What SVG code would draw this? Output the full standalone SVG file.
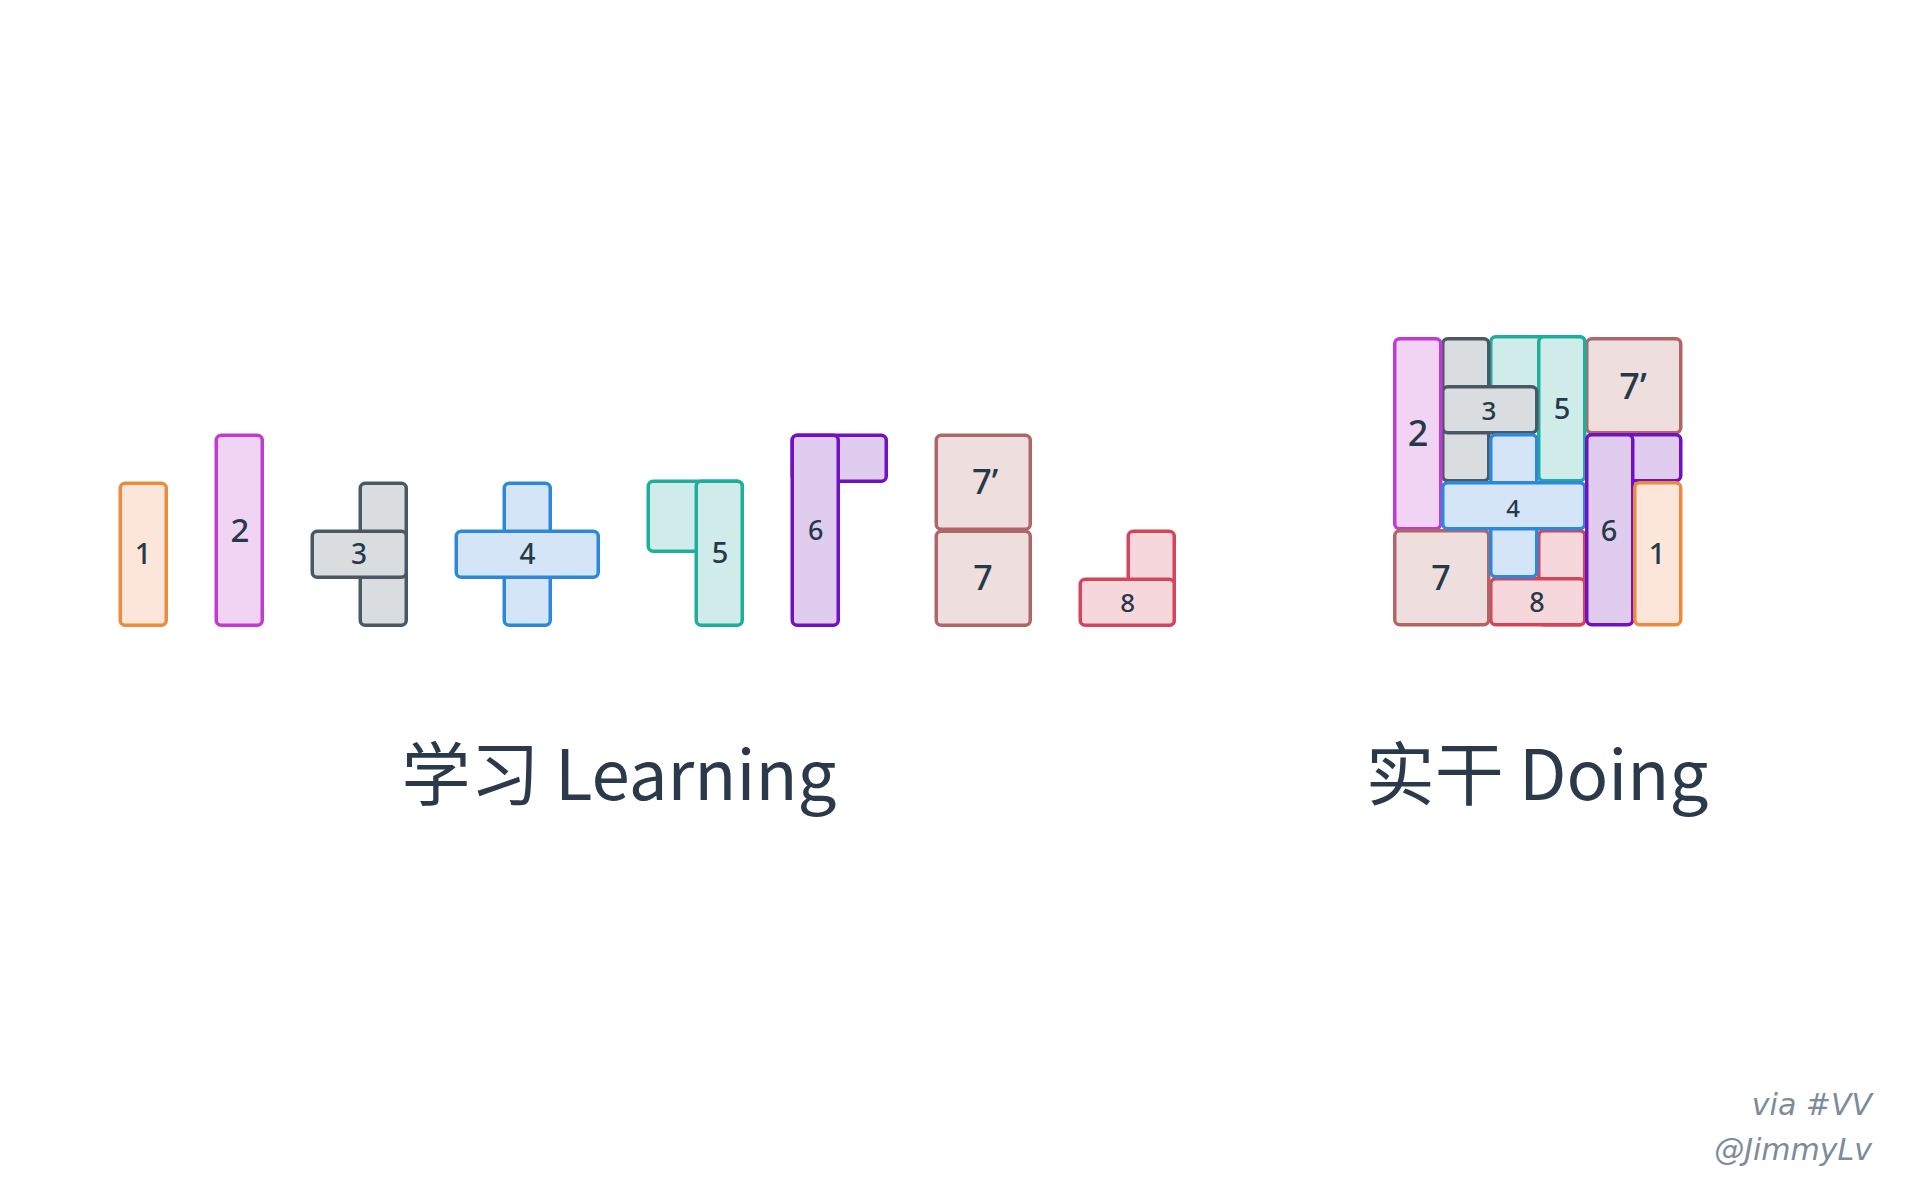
<svg xmlns="http://www.w3.org/2000/svg" width="1920" height="1200" viewBox="0 0 1920 1200">
<style>
rect{stroke-width:3.5;rx:5;ry:5}
.c1 rect{fill:#FBE6D9;stroke:#EC8B3E}
.c2 rect{fill:#F1D3F4;stroke:#C13AD3}
.c3 rect{fill:#D9DDE0;stroke:#4A5866}
.c4 rect{fill:#D3E5F6;stroke:#2E88DA}
.c5 rect{fill:#CFECEA;stroke:#1EAF9C}
.c6 rect{fill:#E0CCEF;stroke:#7211C3}
.c7 rect{fill:#EEDFDE;stroke:#AE6666}
.c8 rect{fill:#F6D8DC;stroke:#D4455C}
.lb{font-family:"Noto Sans","DejaVu Sans",sans-serif;font-weight:500;fill:#273848;text-anchor:middle}
.title{font-family:"Noto Sans CJK SC","Noto Sans",sans-serif;font-size:69px;fill:#2A3A4A;text-anchor:middle}
.wm{font-family:"DejaVu Sans","Noto Sans",sans-serif;font-style:italic;font-size:30px;fill:#7C8C9B;text-anchor:end}
</style>
<rect x="0" y="0" width="1920" height="1200" style="fill:#ffffff;stroke:none;rx:0;ry:0"/>

<g id="learning">
  <g id="L1" class="c1"><rect x="120.25" y="483.25" width="46" height="142"/><text class="lb" x="143" y="564" font-size="29">1</text></g>
  <g id="L2" class="c2"><rect x="216.25" y="435.25" width="46" height="190"/><text class="lb" x="240" y="541.5" font-size="33">2</text></g>
  <g id="L3" class="c3"><rect x="360.25" y="483.25" width="46" height="142"/><rect x="312.25" y="531.25" width="94" height="46"/><text class="lb" x="359" y="564" font-size="28">3</text></g>
  <g id="L4" class="c4"><rect x="504.25" y="483.25" width="46" height="142"/><rect x="456.25" y="531.25" width="142" height="46"/><text class="lb" x="527.5" y="563.5" font-size="28">4</text></g>
  <g id="L5" class="c5"><rect x="648.25" y="481.25" width="94" height="70"/><rect x="696.25" y="481.25" width="46" height="144"/><text class="lb" x="720" y="562.7" font-size="29">5</text></g>
  <g id="L6" class="c6"><rect x="792.25" y="435.25" width="94" height="46"/><rect x="792.25" y="435.25" width="46" height="190"/><text class="lb" x="815.7" y="539.5" font-size="27">6</text></g>
  <g id="L7p" class="c7"><rect x="936.25" y="435.25" width="94" height="94"/><text class="lb" x="985" y="494" font-size="34.5">7’</text></g>
  <g id="L7" class="c7"><rect x="936.25" y="531.25" width="94" height="94"/><text class="lb" x="983" y="590" font-size="34">7</text></g>
  <g id="L8" class="c8"><rect x="1128.25" y="531.25" width="46" height="94"/><rect x="1080.25" y="579.25" width="94" height="46"/><text class="lb" x="1127.7" y="611.7" font-size="26">8</text></g>
</g>

<g id="doing">
  <g id="D7p" class="c7"><rect x="1586.75" y="338.75" width="94" height="94"/><text class="lb" x="1633" y="399.3" font-size="36">7’</text></g>
  <g id="D5" class="c5"><rect x="1490.75" y="336.75" width="94" height="70"/><rect x="1538.75" y="336.75" width="46" height="144"/><text class="lb" x="1562" y="419" font-size="29">5</text></g>
  <g id="D3" class="c3"><rect x="1442.75" y="338.75" width="46" height="142"/><rect x="1442.75" y="386.75" width="94" height="46"/><text class="lb" x="1489" y="420" font-size="26">3</text></g>
  <g id="D2" class="c2"><rect x="1394.75" y="338.75" width="46" height="190"/><text class="lb" x="1418" y="446" font-size="36">2</text></g>
  <g id="D8" class="c8"><rect x="1538.75" y="530.75" width="46" height="94"/><rect x="1490.75" y="578.75" width="94" height="46"/><text class="lb" x="1537" y="612.3" font-size="27">8</text></g>
  <g id="D7" class="c7"><rect x="1394.75" y="530.75" width="94" height="94"/><text class="lb" x="1441" y="590" font-size="34">7</text></g>
  <g id="D4" class="c4"><rect x="1490.75" y="434.75" width="46" height="142"/><rect x="1442.75" y="482.75" width="142" height="46"/><text class="lb" x="1513" y="516.7" font-size="24">4</text></g>
  <g id="D6" class="c6"><rect x="1586.75" y="434.75" width="94" height="46"/><rect x="1586.75" y="434.75" width="46" height="190"/><text class="lb" x="1609" y="540.7" font-size="29">6</text></g>
  <g id="D1" class="c1"><rect x="1634.75" y="482.75" width="46" height="142"/><text class="lb" x="1657" y="564" font-size="29">1</text></g>
</g>

<g id="connectors"></g>

<text id="title-learning" class="title" x="619" y="800">学习 Learning</text>
<text id="title-doing" class="title" x="1537" y="800">实干 Doing</text>

<g id="watermark">
  <text class="wm" x="1872" y="1115">via #VV</text>
  <text class="wm" x="1872" y="1160">@JimmyLv</text>
</g>
</svg>
